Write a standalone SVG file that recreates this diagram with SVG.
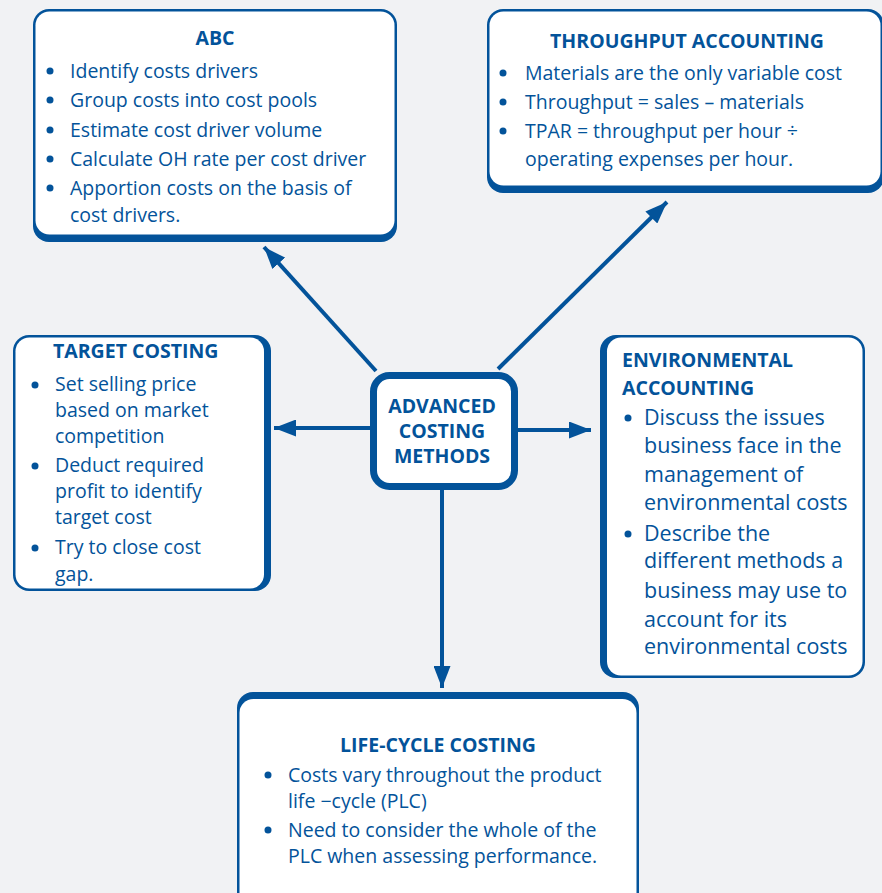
<svg xmlns="http://www.w3.org/2000/svg" width="882" height="893" viewBox="0 0 882 893">
<style>
.bg{fill:#f1f2f4}
.edge{fill:#03539a}
.inner{fill:#ffffff;stroke:none}
.t{font-family:"Open Sans","Noto Sans",sans-serif;font-size:19.5px;fill:#03539a}
.te{font-family:"Open Sans","Noto Sans",sans-serif;font-size:21.5px;fill:#03539a}
.h{font-family:"Open Sans","Noto Sans",sans-serif;font-size:19.5px;font-weight:bold;fill:#03539a}
.b{fill:#03539a}
.ln{stroke:#03539a;stroke-width:4;fill:none}
</style>
<defs>
<marker id="ah" markerUnits="userSpaceOnUse" markerWidth="22" markerHeight="17" refX="22" refY="8.5" orient="auto">
<path d="M0,0 L22,8.5 L0,17 Z" fill="#03539a"/>
</marker>
</defs>
<rect class="bg" x="0" y="0" width="882" height="893"/>

<g id="connectors">
<line class="ln" x1="376" y1="371" x2="264" y2="247" marker-end="url(#ah)"/>
<line class="ln" x1="498" y1="369" x2="667" y2="202" marker-end="url(#ah)"/>
<line class="ln" x1="372" y1="428" x2="274" y2="428" marker-end="url(#ah)"/>
<line class="ln" x1="516" y1="430" x2="591" y2="430" marker-end="url(#ah)"/>
<line class="ln" x1="442" y1="488" x2="442" y2="688" marker-end="url(#ah)"/>
</g>

<g id="center">
<rect x="373.5" y="375.5" width="141" height="111" rx="16" fill="#ffffff" stroke="#03539a" stroke-width="7"/>
<text class="h" x="442" y="413" text-anchor="middle">ADVANCED</text>
<text class="h" x="442" y="438" text-anchor="middle">COSTING</text>
<text class="h" x="442" y="463" text-anchor="middle">METHODS</text>
</g>

<g id="abc">
<rect class="edge" x="33" y="9" width="364" height="233" rx="16"/>
<rect class="inner" x="35.5" y="11.5" width="359" height="223" rx="14"/>
<text class="h" x="215" y="45" text-anchor="middle">ABC</text>
<circle class="b" cx="50" cy="71" r="3.5"/>
<text class="t" x="70" y="78">Identify costs drivers</text>
<circle class="b" cx="50" cy="100" r="3.5"/>
<text class="t" x="70" y="107">Group costs into cost pools</text>
<circle class="b" cx="50" cy="130" r="3.5"/>
<text class="t" x="70" y="137">Estimate cost driver volume</text>
<circle class="b" cx="50" cy="159" r="3.5"/>
<text class="t" x="70" y="166">Calculate OH rate per cost driver</text>
<circle class="b" cx="50" cy="188" r="3.5"/>
<text class="t" x="70" y="195">Apportion costs on the basis of</text>
<text class="t" x="70" y="222">cost drivers.</text>
</g>

<g id="throughput">
<rect class="edge" x="487" y="9" width="397" height="184" rx="16"/>
<rect class="inner" x="489.5" y="11.5" width="391" height="174" rx="14"/>
<text class="h" x="687" y="48" text-anchor="middle">THROUGHPUT ACCOUNTING</text>
<circle class="b" cx="503" cy="73" r="3.5"/>
<text class="t" x="525" y="80">Materials are the only variable cost</text>
<circle class="b" cx="503" cy="102" r="3.5"/>
<text class="t" x="525" y="109">Throughput = sales – materials</text>
<circle class="b" cx="503" cy="131" r="3.5"/>
<text class="t" x="525" y="138">TPAR = throughput per hour ÷</text>
<text class="t" x="525" y="166">operating expenses per hour.</text>
</g>

<g id="target">
<rect class="edge" x="13" y="335" width="258" height="256" rx="16"/>
<rect class="inner" x="15.5" y="337.5" width="248.5" height="251" rx="14"/>
<text class="h" x="53" y="358">TARGET COSTING</text>
<circle class="b" cx="35" cy="385" r="3.5"/>
<text class="t" x="55" y="391">Set selling price</text>
<text class="t" x="55" y="417">based on market</text>
<text class="t" x="55" y="443">competition</text>
<circle class="b" cx="35" cy="466" r="3.5"/>
<text class="t" x="55" y="472">Deduct required</text>
<text class="t" x="55" y="498">profit to identify</text>
<text class="t" x="55" y="524">target cost</text>
<circle class="b" cx="35" cy="548" r="3.5"/>
<text class="t" x="55" y="554">Try to close cost</text>
<text class="t" x="55" y="581">gap.</text>
</g>

<g id="environmental">
<rect class="edge" x="600" y="335" width="265" height="343" rx="16"/>
<rect class="inner" x="607" y="337.5" width="255.5" height="338" rx="14"/>
<text class="h" x="622" y="367">ENVIRONMENTAL</text>
<text class="h" x="622" y="395">ACCOUNTING</text>
<circle class="b" cx="628" cy="418" r="3.5"/>
<text class="te" x="644" y="425">Discuss the issues</text>
<text class="te" x="644" y="453">business face in the</text>
<text class="te" x="644" y="482">management of</text>
<text class="te" x="644" y="510">environmental costs</text>
<circle class="b" cx="628" cy="534" r="3.5"/>
<text class="te" x="644" y="541">Describe the</text>
<text class="te" x="644" y="568">different methods a</text>
<text class="te" x="644" y="598">business may use to</text>
<text class="te" x="644" y="627">account for its</text>
<text class="te" x="644" y="654">environmental costs</text>
</g>

<g id="lifecycle">
<rect class="edge" x="237" y="692" width="402" height="220" rx="16"/>
<rect class="inner" x="239.5" y="699" width="397" height="210" rx="14"/>
<text class="h" x="438" y="752" text-anchor="middle">LIFE-CYCLE COSTING</text>
<circle class="b" cx="268" cy="775" r="3.5"/>
<text class="t" x="288" y="782">Costs vary throughout the product</text>
<text class="t" x="288" y="808">life −cycle (PLC)</text>
<circle class="b" cx="268" cy="830" r="3.5"/>
<text class="t" x="288" y="837">Need to consider the whole of the</text>
<text class="t" x="288" y="863">PLC when assessing performance.</text>
</g>
</svg>
